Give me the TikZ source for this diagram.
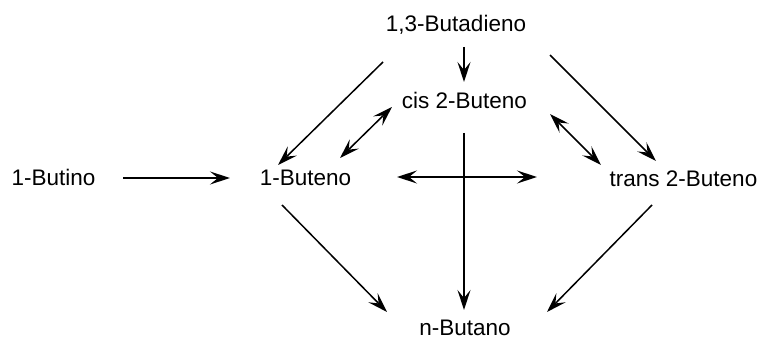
\documentclass[tikz,border=0pt]{standalone}
\usepackage{fontspec}
\setmainfont{Liberation Sans}
\usetikzlibrary{arrows.meta}
\begin{document}
\begin{tikzpicture}[x=1pt,y=-1pt,
  lbl/.style={anchor=base,inner sep=0pt,font=\fontsize{22.5}{26}\selectfont},
  arr/.style={line width=1.5pt,-{Stealth[length=20pt,width=13pt,inset=8pt]}},
  darr/.style={line width=1.5pt,{Stealth[length=20pt,width=13pt,inset=8pt]}-{Stealth[length=20pt,width=13pt,inset=8pt]}}]
\useasboundingbox (0,0) rectangle (764,339);
\node[lbl] (bd) at (456,32) {1,3-Butadieno};
\node[lbl] (cis) at (464.5,109) {cis 2-Buteno};
\node[lbl] (bu) at (53.5,186) {1-Butino};
\node[lbl] (b1) at (305.5,186) {1-Buteno};
\node[lbl] (tr) at (683.5,187) {trans 2-Buteno};
\node[lbl] (nb) at (465,335.5) {n-Butano};
\draw[arr] ([shift={(69.5,-8)}]bu.base) -- ([shift={(-75.5,-8)}]b1.base);
\draw[arr] ([shift={(8,15)}]bd.base) -- ([shift={(-0.5,-27)}]cis.base);
\draw[arr] ([shift={(-73,30)}]bd.base) -- ([shift={(-27.5,-21)}]b1.base);
\draw[arr] ([shift={(94,23)}]bd.base) -- ([shift={(-27.5,-26)}]tr.base);
\draw[darr] ([shift={(34.5,-28)}]b1.base) -- ([shift={(-72.5,-2)}]cis.base);
\draw[darr] ([shift={(85.5,5)}]cis.base) -- ([shift={(-82.5,-22)}]tr.base);
\draw[darr] ([shift={(91.5,-9)}]b1.base) -- ([shift={(-146.5,-10)}]tr.base);
\draw[arr] ([shift={(-0.5,24)}]cis.base) -- ([shift={(-1,-25.5)}]nb.base);
\draw[arr] ([shift={(-23.5,19)}]b1.base) -- ([shift={(-78,-23.5)}]nb.base);
\draw[arr] ([shift={(-31.5,18)}]tr.base) -- ([shift={(82,-23.5)}]nb.base);
\end{tikzpicture}
\end{document}
